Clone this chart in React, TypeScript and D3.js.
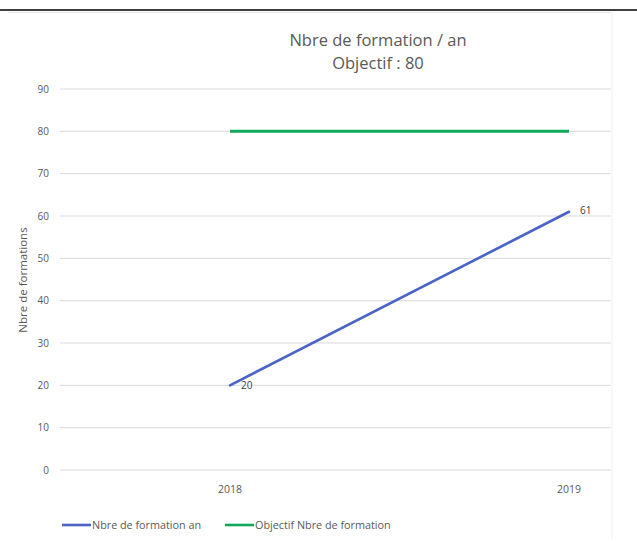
import React from "react";
import * as d3 from "d3";

const years = ["2018", "2019"];
const formations = [20, 61];
const objectif = [80, 80];
const yTicks = [0, 10, 20, 30, 40, 50, 60, 70, 80, 90];
const titleLines = ["Nbre de formation / an", "Objectif : 80"];
const yTitle = "Nbre de formations";
const legendLabels = ["Nbre de formation an", "Objectif Nbre de formation"];

const W = 637;
const H = 545;
const FONT = "'Open Sans', 'Noto Sans', sans-serif";

export default function App() {
  const y = d3.scaleLinear().domain([0, 90]).range([470, 89]);
  const x = d3.scalePoint<string>().domain(years).range([230, 569]);
  const gridL = 60;
  const gridR = 611;

  const line = d3
    .line<number>()
    .x((_, i) => x(years[i]) as number)
    .y((d) => y(d));

  const blue = "#4a63c6";
  const green = "#12a85a";

  return (
    <svg
      width={W}
      height={H}
      style={{ position: "absolute", left: 0, top: 0, background: "#fff" }}
      fontFamily={FONT}
    >
      <rect x={0} y={0} width={W} height={H} fill="#fff" />
      <line x1={0} x2={W} y1={10} y2={10} stroke="#000" strokeWidth={1.6} />
      <line x1={8} x2={611} y1={12.5} y2={12.5} stroke="#e6e6e6" strokeWidth={1} />
      <line x1={612} x2={612} y1={12} y2={540} stroke="#f0f0f0" strokeWidth={1} />

      {titleLines.map((t, i) => (
        <text
          key={t}
          x={378}
          y={46 + i * 23}
          textAnchor="middle"
          fontSize={16.5}
          fill="#595959"
        >
          {t}
        </text>
      ))}

      {yTicks.map((v) => (
        <g key={v}>
          <line x1={gridL} x2={gridR} y1={y(v)} y2={y(v)} stroke="#d9d9d9" strokeWidth={1} />
          <text x={49} y={y(v) + 3.5} textAnchor="end" fontSize={10} fill="#595959">
            {v}
          </text>
        </g>
      ))}

      <text
        transform={`translate(27, 280) rotate(-90)`}
        textAnchor="middle"
        fontSize={11.5}
        fill="#595959"
      >
        {yTitle}
      </text>

      {years.map((yr) => (
        <text key={yr} x={x(yr)} y={493} textAnchor="middle" fontSize={10.5} fill="#595959">
          {yr}
        </text>
      ))}

      <path d={line(objectif) || ""} fill="none" stroke={green} strokeWidth={3} />
      <path d={line(formations) || ""} fill="none" stroke={blue} strokeWidth={2.6} strokeLinecap="round" />

      {formations.map((v, i) => (
        <text
          key={i}
          x={(x(years[i]) as number) + 11}
          y={y(v) + (i === 0 ? 4 : 2)}
          fontSize={10}
          fill="#404040"
        >
          {v}
        </text>
      ))}

      <g>
        <line x1={62} x2={91} y1={525} y2={525} stroke={blue} strokeWidth={2.6} />
        <text x={92} y={529} fontSize={10.8} fill="#595959">
          {legendLabels[0]}
        </text>
        <line x1={225} x2={254} y1={525} y2={525} stroke={green} strokeWidth={2.6} />
        <text x={255} y={529} fontSize={10.8} fill="#595959">
          {legendLabels[1]}
        </text>
      </g>
    </svg>
  );
}
